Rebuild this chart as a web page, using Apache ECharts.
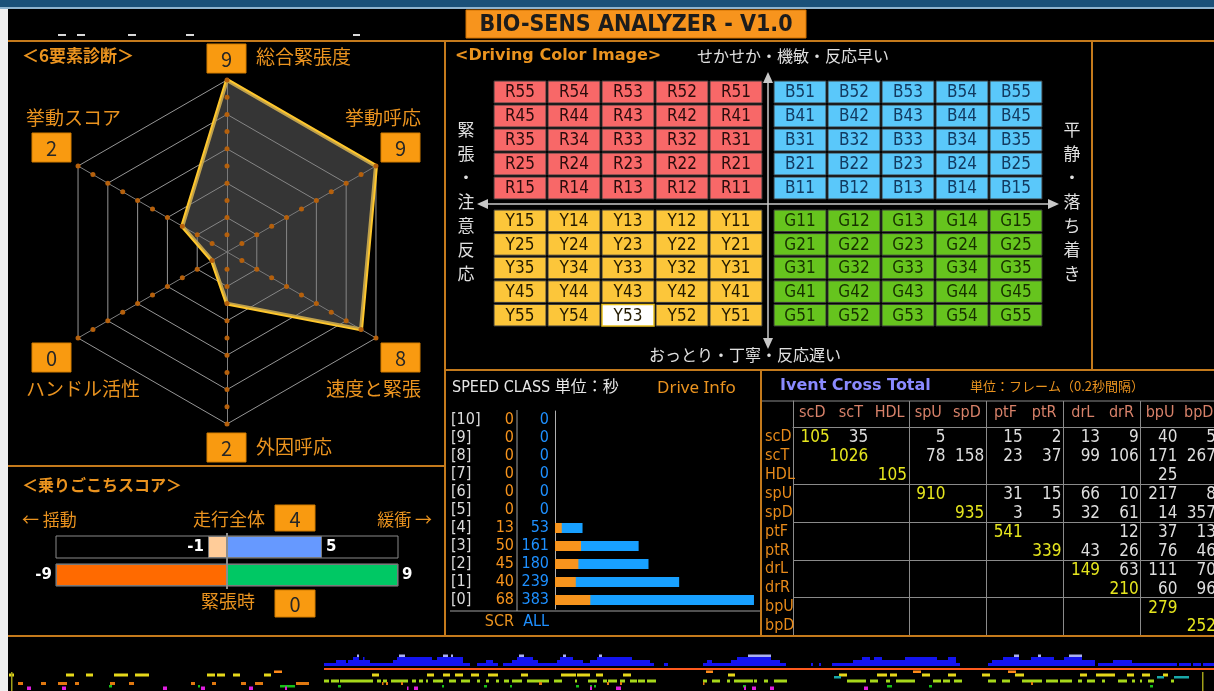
<!DOCTYPE html>
<html><head><meta charset="utf-8">
<script src="https://cdn.jsdelivr.net/npm/echarts@6/dist/echarts.min.js"></script>
<style>html,body{margin:0;padding:0;background:#000;overflow:hidden}#c{width:1214px;height:691px;}</style>
</head><body><div id="c"></div>
<script>
// ---------------- DATA ----------------
const radarNames = ['総合緊張度','挙動スコア','ハンドル活性','外因呼応','速度と緊張','挙動呼応'];
const radarScores = [9, 2, 0, 2, 8, 9];
const radarDotLevels = [0,1,2,3,4,5,6,7,8,9];

const comfortRows = ['走行全体','緊張時'];
const comfortNeg = [-1, -9];
const comfortPos = [5, 9];
const comfortScores = [4, 0];

const speedClasses = ['[10]','[9]','[8]','[7]','[6]','[5]','[4]','[3]','[2]','[1]','[0]'];
const speedSCR = [0,0,0,0,0,0,13,50,45,40,68];
const speedALL = [0,0,0,0,0,0,53,161,180,239,383];

const quadR = ['R55 R54 R53 R52 R51','R45 R44 R43 R42 R41','R35 R34 R33 R32 R31','R25 R24 R23 R22 R21','R15 R14 R13 R12 R11'];
const quadY = ['Y15 Y14 Y13 Y12 Y11','Y25 Y24 Y23 Y22 Y21','Y35 Y34 Y33 Y32 Y31','Y45 Y44 Y43 Y42 Y41','Y55 Y54 Y53 Y52 Y51'];
const quadB = ['B51 B52 B53 B54 B55','B41 B42 B43 B44 B45','B31 B32 B33 B34 B35','B21 B22 B23 B24 B25','B11 B12 B13 B14 B15'];
const quadG = ['G11 G12 G13 G14 G15','G21 G22 G23 G24 G25','G31 G32 G33 G34 G35','G41 G42 G43 G44 G45','G51 G52 G53 G54 G55'];
const highlightCell = 'Y53';

const crossCols = ['scD','scT','HDL','spU','spD','ptF','ptR','drL','drR','bpU','bpD'];
const crossRows = ['scD','scT','HDL','spU','spD','ptF','ptR','drL','drR','bpU','bpD'];
const crossMatrix = [
  [105, 35, null, 5, null, 15, 2, 13, 9, 40, 5],
  [null, 1026, null, 78, 158, 23, 37, 99, 106, 171, 267],
  [null, null, 105, null, null, null, null, null, null, 25, null],
  [null, null, null, 910, null, 31, 15, 66, 10, 217, 8],
  [null, null, null, null, 935, 3, 5, 32, 61, 14, 357],
  [null, null, null, null, null, 541, null, null, 12, 37, 13],
  [null, null, null, null, null, null, 339, 43, 26, 76, 46],
  [null, null, null, null, null, null, null, 149, 63, 111, 70],
  [null, null, null, null, null, null, null, null, 210, 60, 96],
  [null, null, null, null, null, null, null, null, null, 279, null],
  [null, null, null, null, null, null, null, null, null, null, 252]
];

// timeline strip (time in frames, [start, end] or [start, end, level])
const timeBlue = [[324,336,3],[336,346,6],[346,348,3],[348,353,6],[353,359,9],[359,363,6],[363,364,9],[364,370,6],[370,393,3],[393,397,6],[397,432,9],[432,437,6],[437,463,9],[463,470,3],[477,486,3],[486,493,6],[493,498,3],[503,512,3],[512,517,6],[517,533,9],[533,538,6],[538,557,3],[557,560,6],[560,573,9],[573,583,6],[583,590,3],[590,597,6],[597,632,9],[632,650,6],[650,654,3],[664,668,3],[703,707,3],[707,712,6],[712,731,3],[731,737,6],[737,771,9],[771,780,6],[780,786,3],[811,813,3],[819,821,3],[832,853,3],[853,862,6],[862,870,9],[870,874,6],[874,882,9],[882,905,6],[905,937,9],[937,948,6],[948,956,9],[956,960,3],[988,992,3],[992,1003,6],[1003,1019,9],[1019,1031,6],[1031,1054,9],[1054,1064,6],[1064,1082,9],[1082,1095,6],[1098,1113,3],[1113,1132,6],[1132,1177,3],[1179,1191,3],[1193,1201,3],[1203,1214,3]];
const timeBlueCaps = [[357,359,9],[399,405,9],[443,448,9],[451,453,9],[519,524,9],[563,566,9],[599,602,9],[748,771,9],[1014,1019,9],[1038,1041,9],[1069,1082,9]];
const timeRedLine = [[324,1214]];
const timeOrangeHi = [[274,282],[706,713],[913,921],[1008,1016]];
const timeYellow = [[9,14],[66,74],[86,93],[114,128],[135,149],[207,215],[217,225],[233,240],[264,271],[372,379],[427,434],[443,450],[455,463],[471,479],[488,498],[521,528],[561,576],[577,590],[596,603],[623,631],[728,735],[839,847],[877,887],[890,897],[922,930],[948,956],[982,990],[1015,1024],[1080,1087],[1096,1115],[1127,1134],[1142,1150],[1163,1168]];
const timeCyan = [[834,841],[1157,1164],[1174,1189]];
const timeYellowGreen = [[324,329],[331,339],[340,373],[377,381],[383,387],[391,408],[412,416],[419,423],[426,428],[433,443],[449,456],[461,470],[477,480],[486,489],[496,499],[504,509],[512,522],[527,549],[554,562],[575,577],[588,597],[603,607],[608,617],[620,625],[630,637],[638,645],[647,656],[703,707],[712,720],[727,730],[734,753],[754,757],[764,768],[774,787],[847,866],[870,878],[886,890],[896,915],[933,941],[943,950],[954,962],[988,996],[1002,1010],[1022,1042],[1046,1058],[1060,1072],[1078,1082],[1087,1095],[1102,1105],[1118,1127],[1132,1135],[1140,1142],[1148,1154],[1171,1174]];
const timeOrangeLo = [[18,23],[41,46],[58,67],[75,79],[110,115],[129,134],[191,195],[212,216],[241,246],[255,263],[296,309],[382,383],[386,388],[401,403],[539,542],[607,609],[620,622],[703,704],[1031,1033]];
const timeGreen = [[109,112],[198,200],[280,295],[338,341],[442,444],[484,487],[510,512],[576,579],[590,592],[594,596],[743,746],[887,892],[929,932],[1150,1153]];
const timeMagenta = [[27,31],[62,66],[163,167],[201,205],[249,253],[285,287],[407,408],[414,418],[590,592],[616,621],[744,746],[752,756],[770,774],[864,868]];
const timeMarkers = [[11,12.5],[1202,1203.5]];

// ---------------- STYLE ----------------
const NARROW = '"Liberation Sans Narrow","DejaVu Sans Condensed","Noto Sans CJK JP",sans-serif';
const FN = NARROW;
const FJ = '"Noto Sans CJK JP",sans-serif';
const FV = '"DejaVu Sans",sans-serif';
const ORANGE = '#ea931f';
const BOX = '#f99a10';
const PANEL = '#c47a1c';
const comfortNegColors = ['#ffcc99', '#ff6a00'];
const comfortPosColors = ['#6699ff', '#00c864'];

const G = [];
function T(x, y, text, fill, font, align, valign, extra) {
  align = align || 'left'; valign = valign || 'middle';
  G.push({type:'text', x:x, y:y, silent:true, z:5,
    style:Object.assign({text:text, fill:fill, font:font, textAlign:align, textVerticalAlign:valign}, extra||{})});
}
function R(x,y,w,h,fill,stroke,lw){ G.push({type:'rect', silent:true, z:1, shape:{x:x,y:y,width:w,height:h}, style:{fill:fill, stroke:stroke||null, lineWidth:lw||0}}); }
function L(x1,y1,x2,y2,stroke,lw){ G.push({type:'line', silent:true, z:3, shape:{x1:x1,y1:y1,x2:x2,y2:y2}, style:{stroke:stroke, lineWidth:lw||1}}); }
function P(points, fill){ G.push({type:'polygon', silent:true, z:3, shape:{points:points}, style:{fill:fill}}); }
function BX(x,y,w,h,val){ R(x,y,w,h,BOX,'#d27c00',1); T(x+w/2, y+h/2+1, String(val), '#262626', '20px '+FJ, 'center'); }

// frame
R(0,0,1214,7,'#1b5179');
R(0,7,1214,2,'#8fb4cf');
R(0,9,8,682,'#efefef');
[[58,8],[77,8],[128,8],[186,8],[353,7]].forEach(d=>R(d[0],34,d[1],2,'#d8d8d8'));
R(466,10,340,28,'#f7941d','#d07000',1);
T(636,25,'BIO-SENS ANALYZER - V1.0','#1c1c1c','bold 23px '+FN,'center');

L(8,41,1214,41,PANEL,2);
L(445,41,445,636,PANEL,2);
L(1092,41,1092,370,PANEL,2);
L(8,466,445,466,PANEL,2);
L(445,370,1214,370,PANEL,2);
L(761,370,761,636,PANEL,2);
L(8,636,1214,636,PANEL,2);

// radar labels
T(22,56,'＜6要素診断＞',ORANGE,'bold 17px '+FJ);
const radarBoxes = [[207,44],[32,133],[32,343],[207,433],[381,343],[381,133]];
radarBoxes.forEach((b,i)=>BX(b[0],b[1],39,29,radarScores[i]));
T(256,57,radarNames[0],ORANGE,'19px '+FJ);
T(26,118,radarNames[1],ORANGE,'19px '+FJ);
T(26,389,radarNames[2],ORANGE,'19px '+FJ);
T(256,447,radarNames[3],ORANGE,'19px '+FJ);
T(421,389,radarNames[4],ORANGE,'19px '+FJ,'right');
T(421,118,radarNames[5],ORANGE,'19px '+FJ,'right');

// comfort
T(22,485,'＜乗りごこちスコア＞',ORANGE,'bold 16px '+FJ);
T(22,520,'← 揺動',ORANGE,'17px '+FJ);
T(265,519,comfortRows[0],ORANGE,'18px '+FJ,'right');
BX(275,505,40,26,comfortScores[0]);
T(432,520,'緩衝 →',ORANGE,'17px '+FJ,'right');
T(255,601,comfortRows[1],ORANGE,'18px '+FJ,'right');
BX(275,590,40,27,comfortScores[1]);

// color image
T(455,56,'<Driving Color Image>',ORANGE,'bold 16px '+FV);
T(793,56,'せかせか・機敏・反応早い','#e0e0e0','16px '+FJ,'center');
T(745,355,'おっとり・丁寧・反応遅い','#e0e0e0','16px '+FJ,'center');
T(466,202,'緊\n張\n・\n注\n意\n反\n応','#e0e0e0','17px '+FJ,'center','middle',{lineHeight:24});
T(1072,202,'平\n静\n・\n落\nち\n着\nき','#e0e0e0','17px '+FJ,'center','middle',{lineHeight:24});
L(768,80,768,341,'#c8c8c8',1.5);
L(485,204,1051,204,'#c8c8c8',1.5);
P([[768,72],[763,83],[773,83]],'#c8c8c8');
P([[768,349],[763,338],[773,338]],'#c8c8c8');
P([[477,204],[488,199],[488,209]],'#c8c8c8');
P([[1059,204],[1048,199],[1048,209]],'#c8c8c8');

// speed class
T(452,388,'SPEED CLASS 単位：秒','#e6e6e6','16px '+FN);
T(657,388,'Drive Info',ORANGE,'17px "Noto Sans",sans-serif');
L(517,410,517,611,'#a0a0a0',1);
L(450,611,760,611,'#a0a0a0',1);
T(514,622,'SCR',ORANGE,'16px '+FN,'right');
T(549,622,'ALL','#1e90ff','16px '+FN,'right');

// cross total
T(780,386,'Ivent Cross Total','#8a8aff','bold 16px '+FV);
T(970,386,'単位：フレーム（0.2秒間隔）',ORANGE,'13px '+FJ);
L(762,401,1214,401,'#8a8a8a',1);

// ---------------- SERIES ----------------
const series = [];
series.push({type:'radar', radarIndex:0, symbol:'none', silent:true, z:3,
  data:[{value:radarScores, lineStyle:{color:'#ffc72c', width:4}, areaStyle:{color:'rgba(115,115,115,0.66)'}}],
  lineStyle:{color:'#ffc72c', width:4},
  areaStyle:{color:'rgba(115,115,115,0.66)'}});
radarDotLevels.forEach(lv=>{
  series.push({type:'radar', radarIndex:0, silent:true, z:4, symbol:'circle', symbolSize:5,
    itemStyle:{color:'#b5600c'}, lineStyle:{opacity:0, width:0},
    data:[{value:radarNames.map(()=>lv)}]});
});

// comfort bars
const lblFont = {color:'#fff', fontWeight:'bold', fontSize:15, fontFamily:'DejaVu Sans'};
series.push({type:'bar', xAxisIndex:0, yAxisIndex:0, barWidth:22, barGap:'-100%', silent:true,
  data:comfortNeg.map((v,i)=>({value:v, itemStyle:{color:comfortNegColors[i]}})),
  itemStyle:{borderColor:'#7a7a7a', borderWidth:1},
  showBackground:true, backgroundStyle:{color:'#000', borderColor:'#8a8a8a', borderWidth:1},
  label:Object.assign({show:true, position:'left', distance:4}, lblFont)});
series.push({type:'bar', xAxisIndex:0, yAxisIndex:0, barWidth:22, barGap:'-100%', silent:true,
  data:comfortPos.map((v,i)=>({value:v, itemStyle:{color:comfortPosColors[i]}})),
  itemStyle:{borderColor:'#7a7a7a', borderWidth:1},
  label:Object.assign({show:true, position:'right', distance:4}, lblFont),
  markLine:{silent:true, symbol:['none','none'], label:{show:false}, lineStyle:{color:'#8c8c8c', width:2, type:'solid'}, data:[{xAxis:0}]}});

// speed bars
series.push({type:'bar', xAxisIndex:1, yAxisIndex:1, barWidth:10, barGap:'-100%', silent:true, data:speedALL, itemStyle:{color:'#18a0ff'}});
series.push({type:'bar', xAxisIndex:1, yAxisIndex:1, barWidth:10, barGap:'-100%', silent:true, data:speedSCR, itemStyle:{color:'#f7941d'}});

// color quadrants
function quadSeries(idx, rows, fill, textFill){
  const labels = [], data = [];
  rows.forEach((row,r)=>row.split(' ').forEach((lab,c)=>{ data.push([c,r]); labels.push(lab); }));
  return {type:'custom', xAxisIndex:idx, yAxisIndex:idx, data:data, encode:{x:0,y:1}, silent:true,
    renderItem:function(params, api){
      const p = api.coord([api.value(0), api.value(1)]);
      const s = api.size([1,1]);
      const lab = labels[params.dataIndex];
      const hi = lab === highlightCell;
      return {type:'group', children:[
        {type:'rect', shape:{x:p[0]-s[0]/2+1, y:p[1]-s[1]/2+1, width:s[0]-2, height:s[1]-2},
          style:{fill: hi ? '#ffffff' : fill, stroke: hi ? '#e8c020' : '#3a3a3a', lineWidth: hi ? 1.5 : 1}},
        {type:'text', x:p[0], y:p[1]+1, style:{text:lab, fill:textFill, font:'17px '+FN, textAlign:'center', textVerticalAlign:'middle'}}
      ]};
    }};
}
series.push(quadSeries(2, quadR, '#f86868', '#2a0c0c'));
series.push(quadSeries(3, quadY, '#fcc63a', '#231a00'));
series.push(quadSeries(4, quadB, '#5ac8fa', '#123a60'));
series.push(quadSeries(5, quadG, '#66c41e', '#173000'));

// cross table values
const crossData = [];
crossMatrix.forEach((row,r)=>row.forEach((v,c)=>{ if (v !== null) crossData.push([c,r,v]); }));
series.push({type:'custom', xAxisIndex:6, yAxisIndex:6, data:crossData, encode:{x:0,y:1}, silent:true,
  renderItem:function(params, api){
    const c = api.value(0), r = api.value(1), v = api.value(2);
    const p = api.coord([c,r]); const s = api.size([1,1]);
    return {type:'text', x:p[0]+s[0]/2-2, y:p[1]+1,
      style:{text:String(v), fill: c===r ? '#e6e61e' : '#dedede', font:'17px '+FN, textAlign:'right', textVerticalAlign:'middle'}};
  }});

// timeline strip
function trackSeries(data, v0, v1, color){
  return {type:'custom', xAxisIndex:8, yAxisIndex:8, data:data, encode:{x:[0,1]}, silent:true,
    renderItem:function(params, api){
      const a = api.coord([api.value(0), v1]), b = api.coord([api.value(1), v0]);
      return {type:'rect', shape:{x:a[0], y:a[1], width:Math.max(1.5, b[0]-a[0]), height:b[1]-a[1]}, style:{fill:color}};
    }};
}
function levelSeries(data, base, capH, color){
  return {type:'custom', xAxisIndex:8, yAxisIndex:8, data:data, encode:{x:[0,1]}, silent:true,
    renderItem:function(params, api){
      const h = api.value(2);
      const lo = capH ? base + h : base, hi = capH ? base + h + capH : base + h;
      const a = api.coord([api.value(0), hi]), b = api.coord([api.value(1), lo]);
      return {type:'rect', shape:{x:a[0], y:a[1], width:Math.max(1.5, b[0]-a[0]), height:b[1]-a[1]}, style:{fill:color}};
    }};
}
series.push(levelSeries(timeBlue, 25, 0, '#1414f0'));
series.push(levelSeries(timeBlueCaps, 25, 2.5, '#aab0f0'));
series.push(trackSeries(timeRedLine, 21, 23, '#ff5a1e'));
series.push(trackSeries(timeOrangeHi, 18, 20.5, '#ff8a1a'));
series.push(trackSeries(timeYellow, 14.5, 17.5, '#e6d81a'));
series.push(trackSeries(timeCyan, 12.5, 15, '#1aa8a8'));
series.push(trackSeries(timeYellowGreen, 8.5, 11.5, '#a6d81a'));
series.push(trackSeries(timeOrangeLo, 6, 9, '#e07810'));
series.push(trackSeries(timeGreen, 3.5, 6, '#18c018'));
series.push(trackSeries(timeMagenta, 1, 4.5, '#e01ee0'));
series.push(trackSeries(timeMarkers, 0, 19, '#a0a018'));

// ---------------- AXES ----------------
const idx5 = ['0','1','2','3','4'];
function hiddenCat(inv){ return {type:'category', data:idx5, show:false, inverse:!!inv}; }
const groupStart = function(i){ return i===3 || i===5 || i===7 || i===9; };
const grids = [
  {left:56, top:533, width:342, height:56},
  {left:555, top:411, width:200, height:198},
  {left:493, top:80, width:270, height:120},
  {left:493, top:209, width:270, height:118},
  {left:773, top:80, width:270, height:120},
  {left:773, top:209, width:270, height:118},
  {left:793, top:427.5, width:425, height:208},
  {left:793, top:401, width:425, height:26.5},
  {left:0, top:636, width:1214, height:55}
].map(g=>Object.assign({containLabel:false, outerBoundsMode:'none', show:false}, g));

const xAxis = [
  {type:'value', gridIndex:0, min:-9, max:9, show:false},
  {type:'value', gridIndex:1, min:0, max:385, show:false},
  Object.assign(hiddenCat(), {gridIndex:2}),
  Object.assign(hiddenCat(), {gridIndex:3}),
  Object.assign(hiddenCat(), {gridIndex:4}),
  Object.assign(hiddenCat(), {gridIndex:5}),
  {type:'category', gridIndex:6, data:crossCols, position:'top',
    axisLine:{show:true, lineStyle:{color:'#8a8a8a'}}, axisTick:{show:false},
    axisLabel:{interval:0, margin:7, color:'#d8826a', fontSize:16, fontFamily:NARROW},
    splitLine:{show:true, interval:groupStart, lineStyle:{color:'#8a8a8a', width:1}}},
  {type:'category', gridIndex:7, data:crossCols, axisLine:{show:false}, axisTick:{show:false}, axisLabel:{show:false},
    splitLine:{show:true, interval:groupStart, lineStyle:{color:'#8a8a8a', width:1}}},
  {type:'value', gridIndex:8, min:0, max:1214, show:false}
];
const yAxis = [
  {type:'category', gridIndex:0, data:comfortRows, inverse:true, show:false},
  {type:'category', gridIndex:1, data:speedClasses, inverse:true,
    axisLine:{show:true, lineStyle:{color:'#b0b0b0'}}, axisTick:{show:false}, splitLine:{show:false},
    axisLabel:{interval:0, margin:6, fontFamily:NARROW, fontSize:16,
      formatter:function(v, i){ return '{a|'+v+'}{b|'+speedSCR[i]+'}{c|'+speedALL[i]+'}'; },
      rich:{a:{color:'#dcdcdc', width:31, align:'left', fontSize:16, fontFamily:NARROW},
            b:{color:'#f7941d', width:32, align:'right', fontSize:16, fontFamily:NARROW},
            c:{color:'#1e90ff', width:35, align:'right', fontSize:16, fontFamily:NARROW}}}},
  Object.assign(hiddenCat(true), {gridIndex:2}),
  Object.assign(hiddenCat(true), {gridIndex:3}),
  Object.assign(hiddenCat(true), {gridIndex:4}),
  Object.assign(hiddenCat(true), {gridIndex:5}),
  {type:'category', gridIndex:6, data:crossRows, inverse:true,
    axisLine:{show:true, lineStyle:{color:'#8a8a8a'}}, axisTick:{show:false},
    axisLabel:{interval:0, margin:28, align:'left', color:'#e88a1a', fontSize:16, fontFamily:NARROW},
    splitLine:{show:true, interval:groupStart, lineStyle:{color:'#8a8a8a', width:1}}},
  {type:'value', gridIndex:7, axisLine:{show:true, lineStyle:{color:'#8a8a8a'}}, axisTick:{show:false}, axisLabel:{show:false}, splitLine:{show:false}},
  {type:'value', gridIndex:8, min:0, max:55, show:false}
];

const option = {
  backgroundColor:'#000',
  animation:false,
  radar:{center:[227,252], radius:172, startAngle:90, splitNumber:5, shape:'polygon',
    indicator:radarNames.map(n=>({name:n, min:-1, max:9})),
    axisName:{show:false},
    splitLine:{lineStyle:{color:'#969696', width:1}},
    splitArea:{show:false},
    axisLine:{lineStyle:{color:'#808080', width:1}},
    axisTick:{show:false}, axisLabel:{show:false}},
  grid:grids, xAxis:xAxis, yAxis:yAxis, series:series, graphic:G
};
const chart = echarts.init(document.getElementById('c'), null, {renderer:'canvas'});
chart.setOption(option);
</script></body></html>
